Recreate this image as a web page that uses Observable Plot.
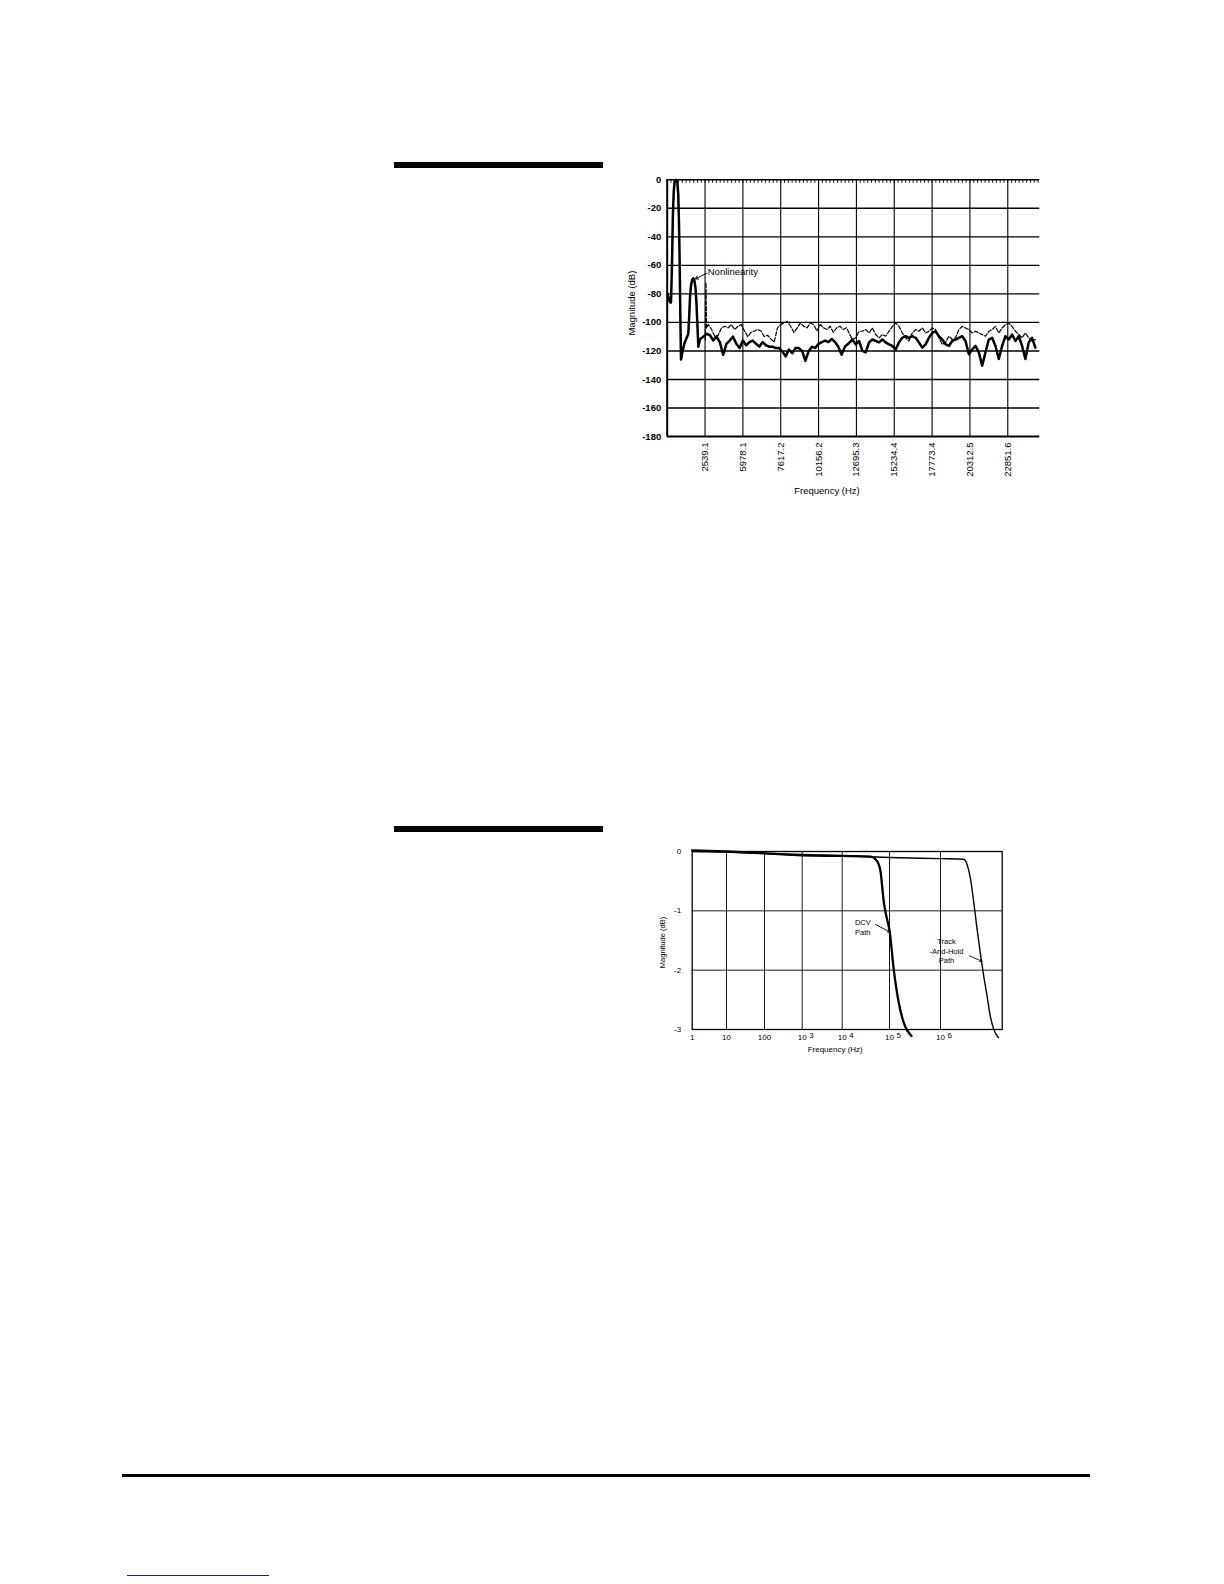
<!DOCTYPE html>
<html><head><meta charset="utf-8">
<script src="https://cdn.jsdelivr.net/npm/d3@7"></script>
<script src="https://cdn.jsdelivr.net/npm/@observablehq/plot@0.6"></script>
<style>
html,body{margin:0;padding:0;background:#fff;}
#page{position:relative;width:1224px;height:1584px;overflow:hidden;font-family:"Liberation Sans",Arial,Helvetica,sans-serif;}
.abs{position:absolute;}
</style></head>
<body><div id="page">
<div class="abs" style="left:394px;top:162px;width:209px;height:6px;background:#000"></div>
<div class="abs" style="left:394px;top:826px;width:209px;height:6px;background:#000"></div>
<div class="abs" style="left:122px;top:1474px;width:968px;height:2.5px;background:#000"></div>
<div class="abs" style="left:127px;top:1574.5px;width:142px;height:1.3px;background:#22228a"></div>
<div id="top" class="abs" style="left:600px;top:160px;"></div>
<div id="bot" class="abs" style="left:630px;top:835px;"></div>
</div>
<script>
// ---------- Top chart: spectrum (Magnitude dB vs Frequency Hz) ----------
const topXTicks = [2539.1, 5078.1, 7617.2, 10156.2, 12695.3, 15234.4, 17773.4, 20312.5, 22851.6];
const topXLabels = ["2539.1", "5978.1", "7617.2", "10156.2", "12695.3", "15234.4", "17773.4", "20312.5", "22851.6"];
const topYTicks = [0, -20, -40, -60, -80, -100, -120, -140, -160, -180];

// thick trace (signal with fundamental and nonlinearity)
const thickFreq = [20,120,200,255,320,380,440,500,590,680,740,790,840,880,926,1000,1147,1416,1480,1530,1600,1680,1751,1830,1900,1960,2020,2087,
  2208,2429,2649,2870,3091,3312,3533,3753,3974,4195,4416,4637,4857,5078,5299,5520,5741,5961,6182,6403,6624,6845,7065,7286,7507,7728,7949,
  8169,8390,8611,8832,9053,9273,9494,9715,9936,10157,10377,10598,10819,11040,11261,11481,11702,11923,12144,
  12427,12650,12874,13097,13320,13543,13766,13990,14213,14436,14659,14882,15106,15329,15552,15775,15998,16222,16445,16668,16891,17114,
  17338,17561,17784,18007,18230,18454,18677,18900,19123,19346,19570,19793,20016,20239,20462,20686,20909,21132,21355,21578,21802,22025,
  22248,22471,22694,22918,23141,23364,23587,23810,24034,24257,24480,24703];
const thickDb = [-80,-84,-86,-86,-60,-25,-8,-1,0,-2,-10,-30,-60,-95,-126,-122,-115,-108,-95,-82,-74,-70,-69,-71,-76,-86,-100,-117,
  -111.6,-110,-108,-109,-112.7,-110,-113.8,-122.7,-115,-112.7,-110,-115,-118,-112.7,-116,-113.8,-112.7,-115,-117,-113.8,-116,-117,-117,-118,-118,-120.4,-123.8,
  -119,-121.6,-118,-118,-120,-127,-120,-117,-118,-115,-113.8,-112.7,-113.8,-111.6,-113.8,-117,-122.7,-117,-115,
  -112,-115.4,-113,-120,-121,-114,-112,-113,-114,-112,-114,-115.4,-116.5,-119,-114,-110.8,-109.7,-110.8,-109.7,-110.8,-114,-117.7,
  -115.4,-110.8,-107.4,-106.2,-109.7,-112,-115.4,-116.5,-113,-112,-110.8,-109.7,-113,-122.3,-119,-116.5,-121,-130.3,-121,-112,-110.8,-116.5,
  -125.7,-116.5,-109.7,-112,-108.5,-113,-109.7,-116.5,-125.7,-114,-110.8,-117.7];

// thin (broken) trace
const thinFreq = [2560,2600,2640,2760,2981,3201,3422,3643,3864,4085,4306,4526,4747,4968,5189,5410,5630,5851,6072,6293,6514,6734,6955,7176,7397,
  7618,7838,8059,8280,8501,8722,8942,9163,9384,9605,9826,10046,10267,10488,10709,10930,11150,11371,11592,11813,12034,
  12427,12650,12874,13097,13320,13543,13766,13990,14213,14436,14659,14882,15106,15329,15552,15775,15998,16222,16445,16668,16891,17114,
  17338,17561,17784,18007,18230,18454,18677,18900,19123,19346,19570,19793,20016,20239,20462,20686,20909,21132,21355,21578,21802,22025,
  22248,22471,22694,22918,23141,23364,23587,23810,24034,24257,24480,24703];
const thinDb = [-112,-72,-104,-101.5,-105,-110,-109,-103.8,-102.7,-103.8,-101.5,-105,-102.7,-101.5,-106,-110,-107,-106,-105,-106,-110,-109,-111.6,-113.8,-103.8,
  -101.5,-100.4,-99.3,-102.7,-107,-103.8,-100.4,-102.7,-103.8,-100.4,-101.5,-106,-101.5,-103.8,-105,-102.7,-107,-103.8,-102.7,-105,-103.8,
  -112,-110.8,-106.2,-106.2,-105,-107.4,-103.9,-108.5,-110.8,-108.5,-109.7,-106.2,-102.8,-100.5,-102.8,-107.4,-110.8,-113,-107.4,-105,-106.2,-103.9,
  -107.4,-106.2,-103.9,-105,-110.8,-115.4,-114,-109.7,-112,-110.8,-105,-102.8,-103.9,-105,-107.4,-106.2,-107.4,-108.5,-109.7,-106.2,-105,-102.8,
  -107.4,-103.9,-101.6,-100.5,-102.8,-106.2,-108.5,-110.8,-107.4,-110.8,-113,-112];

const nonlinArrow = [{x1: 2670, y1: -65.5, x2: 1886, y2: -69.4}];
const nonlinText = [{x: 2720, y: -64.5, label: "Nonlinearity"}];

// ---------- Bottom chart: frequency response ----------
const botDecades = [1, 10, 100, 1000, 10000, 100000, 1000000, 10000000];
const botXTicks = [1, 10, 100, 1000, 10000, 100000, 1000000];
const botXLabels = ["1", "10", "100", "10", "10", "10", "10"];
const botXExponents = ["", "", "", "3", "4", "5", "6"];
const botYTicks = [0, -1, -2, -3];

const dcvFreq = [1,10,100,1000,10000,39800,55000,64600,75600,82000,101000,121600,152000,191000,270000];
const dcvDb = [0.02,0,-0.03,-0.065,-0.075,-0.085,-0.165,-0.335,-0.845,-1.015,-1.355,-2.0,-2.55,-2.89,-3.11];
const thFreq = [1,10,100,1000,10000,100000,1000000,2380000,2700000,3050000,3450000,3900000,4400000,5000000,5670000,6400000,7250000,8700000];
const thDb = [0,-0.01,-0.03,-0.05,-0.07,-0.1,-0.12,-0.13,-0.22,-0.45,-0.845,-1.29,-1.7,-2.09,-2.43,-2.77,-2.99,-3.14];

const botLabels = [
  {x: 27300, y: -1.27, label: "DCV\nPath"},
  {x: 1250000, y: -1.67, label: "Track\n-And-Hold\nPath"}
];
const botArrows = [
  {x1: 50600, y1: -1.23, x2: 101000, y2: -1.355},
  {x1: 2970000, y1: -1.76, x2: 4710000, y2: -1.85}
];

const FONT = "'Liberation Sans', Arial, Helvetica, sans-serif";
const zip = (fs, ds) => fs.map((f, i) => ({f, db: ds[i]}));
const thick = zip(thickFreq, thickDb);
const thin = zip(thinFreq, thinDb);
const dcv = zip(dcvFreq, dcvDb);
const th = zip(thFreq, thDb);
const xLabelOf = new Map(topXTicks.map((t, i) => [t, topXLabels[i]]));
const bLabelOf = new Map(botXTicks.map((t, i) => [t, botXLabels[i]]));
const bExp = botXTicks.map((t, i) => ({t, e: botXExponents[i]})).filter(d => d.e);
const minorTicks = d3.range(0, 25000, 2539.0625 / 10);

const TW = 460, TH = 345, TML = 66.7, TMR = 20.7, TMT = 19.3, TMB = 69;
const topPlot = Plot.plot({
  width: TW, height: TH,
  marginLeft: TML, marginRight: TMR, marginTop: TMT, marginBottom: TMB,
  x: {domain: [0, 25000]},
  y: {domain: [-180, 0]},
  style: {fontFamily: FONT, fontSize: "9.5px", color: "#000", background: "transparent", overflow: "visible"},
  marks: [
    Plot.ruleY(topYTicks.filter(d => d !== 0 && d !== -180), {stroke: "#000", strokeWidth: 1.4}),
    Plot.ruleX(topXTicks, {stroke: "#000", strokeWidth: 1.1}),
    Plot.ruleY([0], {stroke: "#000", strokeWidth: 1.6}),
    Plot.ruleX(minorTicks, {stroke: "#000", strokeWidth: 0.9, insetBottom: TH - TMT - TMB - 3.5}),
    Plot.line(thin, {x: "f", y: "db", stroke: "#000", strokeWidth: 1.2, strokeDasharray: "4,1.8"}),
    Plot.line(thick, {x: "f", y: "db", stroke: "#000", strokeWidth: 2.5, strokeLinejoin: "round"}),
    Plot.ruleY([-180], {stroke: "#000", strokeWidth: 2}),
    Plot.ruleX([0], {stroke: "#000", strokeWidth: 2}),
    Plot.axisY({ticks: topYTicks, tickSize: 0, tickPadding: 6, tickFormat: d => String(d), label: null, fontWeight: "bold"}),
    Plot.axisX({ticks: topXTicks, tickSize: 0, tickPadding: 6, tickRotate: -90, tickFormat: d => xLabelOf.get(d), label: null}),
    Plot.text(["Frequency (Hz)"], {text: d => d, frameAnchor: "bottom", textAnchor: "middle", lineAnchor: "middle", dx: -26.5, dy: 54}),
    Plot.text(["Magnitude (dB)"], {text: d => d, frameAnchor: "left", textAnchor: "middle", lineAnchor: "middle", rotate: -90, dx: -35.7, dy: -5}),
    Plot.arrow(nonlinArrow, {x1: "x1", y1: "y1", x2: "x2", y2: "y2", stroke: "#000", strokeWidth: 1, headLength: 5}),
    Plot.text(nonlinText, {x: "x", y: "y", text: "label", textAnchor: "start"})
  ]
});
document.getElementById("top").append(topPlot);

const BW = 390, BH = 230, BML = 61.7, BMR = 18.3, BMT = 16, BMB = 36;
const botPlot = Plot.plot({
  width: BW, height: BH,
  marginLeft: BML, marginRight: BMR, marginTop: BMT, marginBottom: BMB,
  x: {type: "log", domain: botDecades, range: [BML, 96, 134, 171.7, 211.7, 259, 310, BW - BMR]},
  y: {domain: [-3, 0]},
  style: {fontFamily: FONT, fontSize: "8px", color: "#000", background: "transparent", overflow: "visible"},
  marks: [
    Plot.ruleY([-1, -2], {stroke: "#000", strokeWidth: 0.9}),
    Plot.ruleX(botXTicks.slice(1), {stroke: "#000", strokeWidth: 0.9}),
    Plot.frame({stroke: "#000", strokeWidth: 1.3}),
    Plot.line(th, {x: "f", y: "db", curve: "monotone-x", stroke: "#000", strokeWidth: 1.4}),
    Plot.line(dcv, {x: "f", y: "db", curve: "monotone-x", stroke: "#000", strokeWidth: 2.3}),
    Plot.axisX({ticks: botXTicks, tickSize: 0, tickPadding: 5, tickFormat: d => bLabelOf.get(d), label: null}),
    Plot.text(bExp, {x: "t", text: "e", frameAnchor: "bottom", lineAnchor: "middle", textAnchor: "start", dx: 7, dy: 5.5, fontSize: 8}),
    Plot.axisY({ticks: botYTicks, tickSize: 0, tickPadding: 11, tickFormat: d => String(d), label: null}),
    Plot.text(["Frequency (Hz)"], {text: d => d, frameAnchor: "bottom", textAnchor: "middle", lineAnchor: "middle", dx: -12, dy: 20, fontSize: 8}),
    Plot.text(["Magnitude (dB)"], {text: d => d, frameAnchor: "left", textAnchor: "middle", lineAnchor: "middle", rotate: -90, dx: -30, dy: 2, fontSize: 7.5}),
    Plot.text(botLabels, {x: "x", y: "y", text: "label", lineHeight: 1.25, fontSize: 7.5}),
    Plot.arrow(botArrows, {x1: "x1", y1: "y1", x2: "x2", y2: "y2", stroke: "#000", strokeWidth: 0.9, headLength: 4})
  ]
});
document.getElementById("bot").append(botPlot);
</script>
</body></html>
